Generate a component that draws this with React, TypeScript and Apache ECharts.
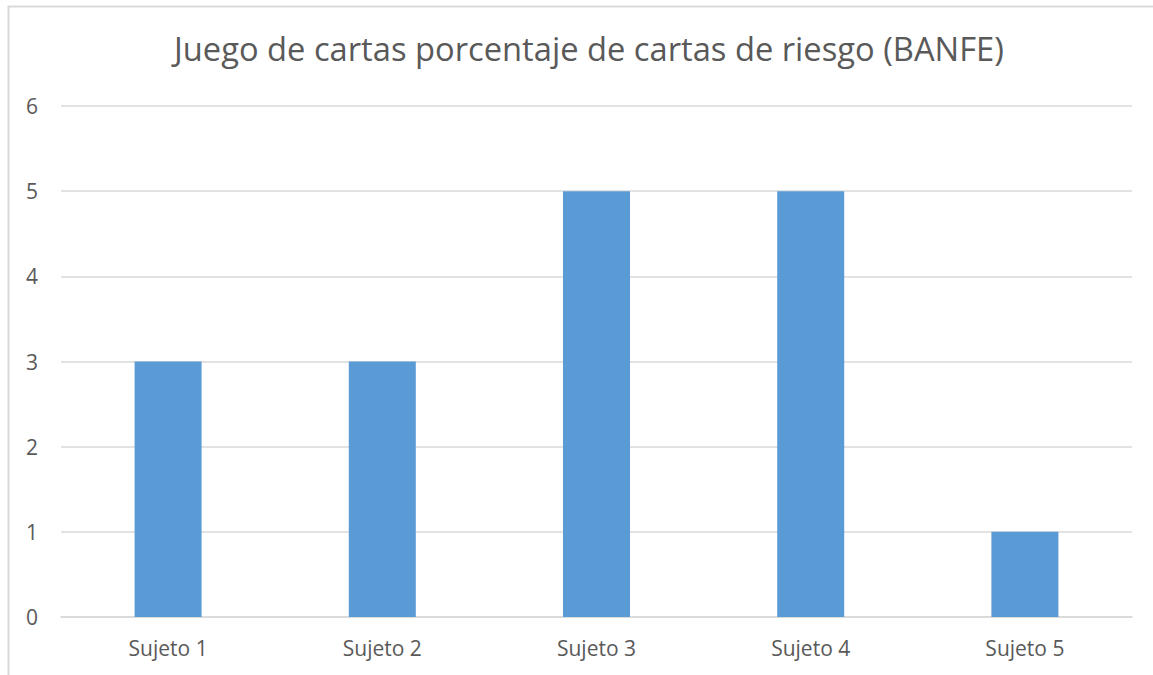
import React, { useEffect, useRef } from "react";
import * as echarts from "echarts";

const categories = ["Sujeto 1", "Sujeto 2", "Sujeto 3", "Sujeto 4", "Sujeto 5"];
const values = [3, 3, 5, 5, 1];
const titleText = "Juego de cartas porcentaje de cartas de riesgo (BANFE)";

export default function App() {
  const ref = useRef<HTMLDivElement>(null);
  useEffect(() => {
    document.body.style.margin = "0";
    const chart = echarts.init(ref.current!, null, { renderer: "svg" });
    const font = "'Open Sans', 'Liberation Sans', sans-serif";
    chart.setOption({
      animation: false,
      backgroundColor: "#ffffff",
      title: {
        text: titleText,
        left: 169,
        top: 27,
        textStyle: { fontFamily: font, fontSize: 32.7, fontWeight: "normal", color: "#595959" },
      },
      graphic: [
        {
          type: "rect",
          shape: { x: 8.5, y: 6.5, width: 1200, height: 700 },
          style: { fill: "none", stroke: "#d9d9d9", lineWidth: 2 },
          silent: true,
        },
      ],
      grid: { left: 61, right: 21, top: 106, bottom: 58 },
      xAxis: {
        type: "category",
        data: categories,
        axisTick: { show: false },
        axisLine: { lineStyle: { color: "#d9d9d9", width: 1.5 } },
        axisLabel: { fontFamily: font, fontSize: 21, color: "#595959", margin: 20 },
      },
      yAxis: {
        type: "value",
        min: 0,
        max: 6,
        interval: 1,
        axisLine: { show: false },
        axisTick: { show: false },
        splitLine: { lineStyle: { color: "#d9d9d9", width: 1.5 } },
        axisLabel: { fontFamily: font, fontSize: 21, color: "#595959", margin: 23 },
      },
      series: [
        {
          type: "bar",
          data: values,
          barWidth: 67,
          itemStyle: { color: "#5b9bd5" },
        },
      ],
    });
    return () => chart.dispose();
  }, []);
  return <div ref={ref} style={{ width: 1153, height: 675 }} />;
}
